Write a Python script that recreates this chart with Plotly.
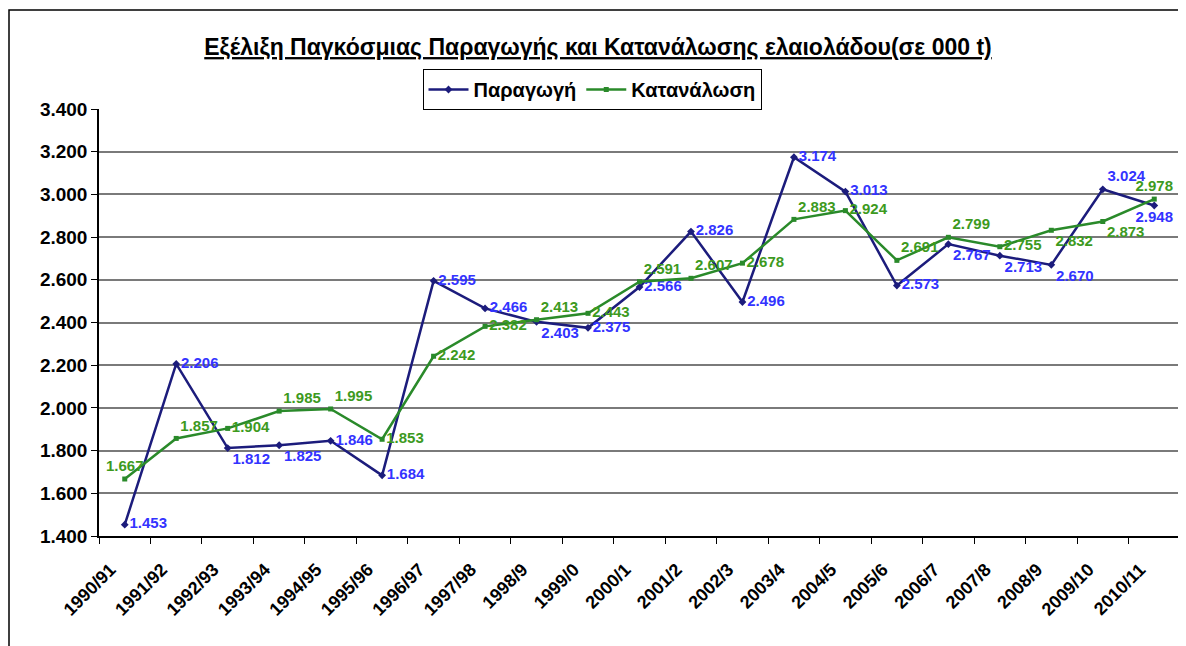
import plotly.graph_objects as go

# ── Δεδομένα (σε 000 t) ──────────────────────────────────────────────────────
periodoi = ["1990/91", "1991/92", "1992/93", "1993/94", "1994/95", "1995/96",
            "1996/97", "1997/98", "1998/9", "1999/0", "2000/1", "2001/2",
            "2002/3", "2003/4", "2004/5", "2005/6", "2006/7", "2007/8",
            "2008/9", "2009/10", "2010/11"]
paragogi = [1453, 2206, 1812, 1825, 1846, 1684, 2595, 2466, 2403, 2375, 2566,
            2826, 2496, 3174, 3013, 2573, 2767, 2713, 2670, 3024, 2948]
katanalosi = [1667, 1857, 1904, 1985, 1995, 1853, 2242, 2382, 2413, 2443, 2591,
              2607, 2678, 2883, 2924, 2691, 2799, 2755, 2832, 2873, 2978]

pos_paragogi = ["middle right", "middle right", "bottom right", "bottom right",
                "middle right", "middle right", "middle right", "middle right",
                "bottom right", "middle right", "middle right", "middle right",
                "middle right", "middle right", "middle right", "middle right",
                "bottom right", "bottom right", "bottom right", "top right",
                "bottom center"]
pos_katanalosi = ["top center", "top right", "middle right", "top right",
                  "top right", "middle right", "middle right", "middle right",
                  "top right", "middle right", "top right", "top right",
                  "middle right", "top right", "middle right", "top right",
                  "top right", "middle right", "bottom right", "bottom right",
                  "top center"]

FONT = "Arial, 'Liberation Sans', sans-serif"

# η σελίδα έχει περιθώριο 8px, οπότε όλα μετατοπίζονται κατά 8px
W, H = 1178, 638
ML, MT, MB, MR = 91, 101, 110, 6
PW, PH = W - ML - MR, H - MT - MB


def px_x(x):
    return (x - 8 - ML) / PW


def px_y(y):
    return (H - MB - (y - 8)) / PH


def etiketa(v):
    return "<b>" + f"{v:,}".replace(",", ".") + "</b>"


fig = go.Figure()
fig.add_trace(go.Scatter(
    x=periodoi, y=paragogi, name="Παραγωγή",
    mode="lines+markers+text",
    line=dict(color="#1c1c7c", width=2.5),
    marker=dict(symbol="diamond", size=6, color="#1c1c7c"),
    text=[etiketa(v) for v in paragogi],
    textposition=pos_paragogi,
    textfont=dict(family=FONT, size=15, color="#3333ff"),
    cliponaxis=False,
))
fig.add_trace(go.Scatter(
    x=periodoi, y=katanalosi, name="Κατανάλωση",
    mode="lines+markers+text",
    line=dict(color="#2a8a2a", width=2.5),
    marker=dict(symbol="square", size=5, color="#2a8a2a"),
    text=[etiketa(v) for v in katanalosi],
    textposition=pos_katanalosi,
    textfont=dict(family=FONT, size=15, color="#3d9a1e"),
    cliponaxis=False,
))

fig.update_layout(
    width=W, height=H,
    paper_bgcolor="white", plot_bgcolor="white",
    separators=",.",
    font=dict(family=FONT, color="black"),
    margin=dict(l=ML, r=MR, t=MT, b=MB),
    title=dict(
        text="<u><b>Εξέλιξη Παγκόσμιας Παραγωγής και Κατανάλωσης ελαιολάδου(σε 000 t)</b></u>",
        x=(598 - 8) / W, xanchor="center", y=1 - (47 - 8) / H, yanchor="middle",
        font=dict(family=FONT, size=23, color="black"),
    ),
    legend=dict(
        orientation="h", x=px_x(592), xanchor="center", y=px_y(69), yanchor="top",
        bordercolor="black", borderwidth=1, bgcolor="white",
        font=dict(family=FONT, size=20, color="black", weight="bold"),
        itemwidth=40, tracegroupgap=0,
    ),
    xaxis=dict(
        type="category", range=[-0.5, len(periodoi) - 0.5],
        tickson="boundaries", ticks="outside", ticklen=6,
        tickcolor="black", showline=True, linecolor="black", linewidth=1.5,
        showgrid=False, tickangle=-45, automargin=False,
        ticksuffix="\u00a0" * 4,
        tickfont=dict(family=FONT, size=18, color="black", weight="bold"),
    ),
    yaxis=dict(
        range=[1400, 3400], dtick=200, tickformat=",d",
        ticks="outside", ticklen=6, tickcolor="black",
        showline=True, linecolor="black", linewidth=1.5,
        showgrid=True, gridcolor="#7a7a7a", gridwidth=1.5,
        zeroline=False, automargin=False,
        tickfont=dict(family=FONT, size=19, color="black", weight="bold"),
    ),
    shapes=[
        dict(type="line", xref="paper", yref="paper", x0=1, x1=1, y0=0, y1=1,
             line=dict(color="#8a8a8a", width=1.5)),
        dict(type="rect", xref="paper", yref="paper",
             x0=px_x(9), x1=px_x(1200),
             y0=px_y(660), y1=px_y(10),
             line=dict(color="black", width=1.5)),
    ],
)

fig.write_html("out.html")
